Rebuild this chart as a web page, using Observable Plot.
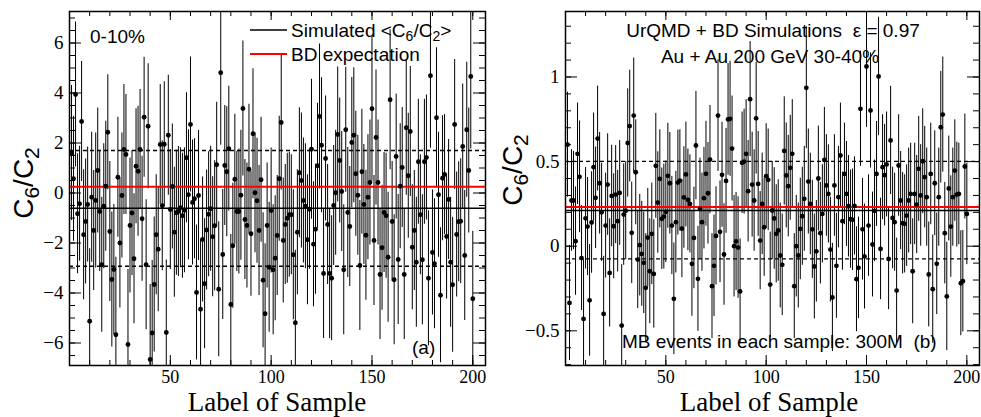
<!DOCTYPE html>
<html><head><meta charset="utf-8">
<script src="https://cdn.jsdelivr.net/npm/d3@7"></script>
<script src="https://cdn.jsdelivr.net/npm/@observablehq/plot@0.6"></script>
<style>
body{margin:0;background:#fff}
#wrap{display:flex;width:981px;height:417px;overflow:hidden}
</style>
</head><body><div id="wrap"></div>
<script>
// ---------- data ----------
const samples = d3.range(1, 201);

const valsA = [
1.6,0.57,3.94,-0.83,-0.43,2.86,-1.67,-1.14,-0.46,-5.13,-0.17,-1.5,-0.3,0.9,-0.74,-2.87,-0.53,0.27,2.43,-1.54,
-3.46,-3.06,-5.67,0.63,-2.0,-0.1,1.74,1.54,-6.06,-1.3,-0.8,-2.63,1.07,0.87,1.74,-1.03,3.03,-2.87,2.67,-6.66,
-5.6,-3.66,-1.67,-2.25,1.94,-0.51,1.95,-5.58,2.31,-0.66,0.26,-1.57,-0.79,-0.74,-0.59,-0.91,-0.69,1.41,-0.07,2.74,
-0.38,-0.23,-3.98,-0.1,-4.65,-1.86,-3.63,-1.48,-0.85,-0.63,-1.75,-1.31,1.13,-3.85,4.81,-2.46,1.1,0.85,1.77,-4.46,
-2.11,0.55,-0.74,-0.74,-0.09,3.38,-1.06,-1.3,0.95,-1.63,2.37,0.01,-0.31,-1.5,0.53,-3.49,-4.83,-1.3,-2.97,-0.7,
-3.07,-2.61,-1.7,0.57,2.82,-1.9,-1.26,-1.01,-0.87,-0.87,-2.47,-5.19,-1.57,0.81,0.5,-0.3,-0.53,-1.87,-0.65,1.75,
-2.05,-1.45,1.09,3.06,1.91,-3.22,1.38,-1.26,-3.22,-3.41,-0.5,0.01,2.34,1.3,0.06,-3.07,2.53,-0.78,-1.34,2.02,
2.31,0.77,-0.09,-2.9,0.85,-0.46,-1.69,-0.17,0.42,3.37,-1.9,2.22,0.42,-3.26,-2.19,-0.78,-0.91,-2.57,3.73,-1.14,
-3.47,1.46,-2.66,0.27,1.02,-3.26,2.61,0.69,2.46,-2.17,-1.5,-2.77,1.25,-0.87,-2.67,1.25,1.42,-3.41,4.69,-2.38,
-2.83,3.01,-0.07,-4.09,0.59,0.74,-1.74,-0.26,-2.77,-3.67,2.74,-1.66,-1.15,-1.13,1.86,-2.5,2.53,0.9,4.66,-4.23
];
const errsA = [
2.7,2.5,2.9,2.4,2.3,2.4,2.6,2.5,2.3,2.9,2.6,2.4,2.7,2.5,2.4,2.7,2.5,2.6,2.3,2.8,
2.7,2.6,3.1,2.4,2.6,2.5,2.6,2.4,3.0,2.7,2.5,2.6,2.3,2.6,2.4,2.5,2.4,2.6,2.5,3.0,
2.9,2.7,2.4,2.5,2.4,2.6,2.5,2.9,2.4,2.4,2.5,2.6,2.5,2.6,2.4,2.5,2.5,2.6,2.6,2.7,
2.5,2.4,2.7,2.6,2.8,2.5,2.6,2.4,2.5,2.5,2.4,2.6,2.5,2.7,2.9,2.6,2.4,2.6,2.5,2.8,
2.5,2.6,2.4,2.5,2.6,2.7,2.4,2.5,2.6,2.5,2.6,2.4,2.5,2.6,2.5,2.7,2.8,2.5,2.6,2.5,
2.6,2.5,2.4,2.5,2.7,2.5,2.4,2.6,2.5,2.4,2.6,2.9,2.5,2.6,2.7,2.5,2.5,2.6,2.4,2.8,
2.5,2.6,2.5,2.9,2.7,2.6,2.5,2.4,2.6,2.5,2.4,2.5,2.7,2.5,2.4,2.6,2.5,2.6,2.4,2.6,
2.7,2.5,2.4,2.6,2.5,2.4,2.6,2.5,2.5,2.9,2.6,2.7,2.5,2.6,2.5,2.4,2.5,2.6,2.8,2.4,
2.6,2.5,2.6,2.5,2.4,2.6,2.7,2.5,2.6,2.5,2.4,2.6,2.5,2.4,2.6,2.5,2.5,2.7,2.9,2.5,
2.6,2.8,2.5,2.7,2.5,2.4,2.5,2.4,2.6,2.7,2.6,2.5,2.4,2.5,2.5,2.6,2.7,2.5,2.9,2.7
];
const valsB = [
0.6,-0.335,0.27,0.27,0.03,0.546,0.41,-0.07,-0.43,0.165,0.116,-0.32,0.14,0.467,0.286,0.636,0.372,0.2,-0.4,0.122,
0.364,-0.158,0.297,0.118,0.305,0.148,0.315,-0.469,0.187,0.21,0.61,0.71,0.079,0.772,0.437,-0.079,0.006,-0.045,-0.098,-0.246,
0.051,-0.148,0.073,-0.164,0.475,0.258,0.398,0.162,0.175,0.203,0.416,0.372,0.122,-0.311,0.142,0.376,0.388,0.104,0.288,0.424,
0.274,0.25,-0.104,0.049,0.595,-0.193,0.221,0.142,0.284,0.428,0.313,0.512,-0.236,-0.116,0.061,0.772,0.085,0.422,-0.049,0.386,
0.749,0.753,0.577,0.0,0.028,-0.008,-0.267,0.493,0.5,0.546,0.325,0.869,0.364,0.27,0.756,0.368,0.033,0.25,0.112,0.414,
0.392,-0.227,0.211,0.164,0.073,0.093,-0.055,-0.11,0.563,0.418,0.355,0.463,0.546,-0.236,0.0,-0.055,0.102,0.177,0.28,0.936,
0.382,0.25,0.1,-0.12,-0.03,0.4,0.077,0.191,0.51,0.359,0.309,-0.02,-0.303,0.359,-0.116,0.29,0.536,0.148,0.427,0.309,
0.236,0.16,0.156,0.238,-0.195,-0.128,0.812,0.1,-0.061,1.062,0.122,0.802,0.01,0.209,0.427,1.003,-0.016,0.467,0.42,0.483,
-0.075,0.625,0.167,0.142,-0.262,0.477,0.27,0.136,0.132,0.181,0.27,0.309,-0.148,0.309,0.246,0.457,0.3,0.502,0.408,0.29,
-0.167,0.427,-0.254,0.372,-0.104,0.29,0.703,0.778,0.077,-0.297,0.341,0.116,0.29,0.447,0.305,0.309,-0.219,-0.207,0.471,0.191
];
const errsB = [
0.31,0.34,0.30,0.29,0.32,0.30,0.33,0.31,0.35,0.30,0.29,0.33,0.30,0.32,0.30,0.31,0.30,0.29,0.34,0.31,
0.30,0.32,0.30,0.31,0.29,0.30,0.31,0.36,0.30,0.29,0.32,0.33,0.30,0.34,0.31,0.29,0.30,0.31,0.30,0.32,
0.29,0.31,0.30,0.32,0.31,0.30,0.29,0.30,0.31,0.30,0.31,0.30,0.29,0.33,0.30,0.31,0.30,0.29,0.30,0.31,
0.30,0.29,0.31,0.30,0.32,0.31,0.30,0.29,0.30,0.31,0.30,0.32,0.31,0.30,0.29,0.33,0.30,0.31,0.30,0.31,
0.33,0.34,0.31,0.30,0.29,0.30,0.31,0.30,0.31,0.32,0.30,0.34,0.31,0.30,0.33,0.31,0.29,0.30,0.29,0.31,
0.30,0.31,0.29,0.30,0.29,0.30,0.31,0.30,0.32,0.31,0.30,0.31,0.32,0.31,0.30,0.31,0.30,0.29,0.31,0.36,
0.31,0.30,0.29,0.31,0.30,0.31,0.30,0.29,0.31,0.30,0.29,0.31,0.32,0.30,0.31,0.30,0.31,0.29,0.30,0.31,
0.30,0.29,0.30,0.29,0.31,0.30,0.34,0.30,0.31,0.36,0.30,0.34,0.31,0.30,0.31,0.35,0.30,0.31,0.30,0.31,
0.30,0.32,0.30,0.29,0.31,0.30,0.29,0.30,0.29,0.30,0.31,0.30,0.31,0.30,0.29,0.31,0.30,0.31,0.30,0.29,
0.31,0.30,0.32,0.31,0.30,0.29,0.33,0.34,0.30,0.32,0.31,0.30,0.29,0.30,0.31,0.30,0.31,0.30,0.31,0.30
];

// reference lines: simulated mean, mean ± spread, BD expectation
const linesA = {mean: -0.61, low: -2.93, high: 1.70, bd: 0.25};
const linesB = {mean: 0.211, low: -0.075, high: 0.501, bd: 0.231};

// axis ticks
const xMajor = [50, 100, 150, 200];
const xMinor = d3.range(10, 206, 10);
const yMajorA = [-6, -4, -2, 0, 2, 4, 6];
const yMinorA = d3.range(-6.5, 7.01, 0.5);
const yMajorB = [-0.5, 0, 0.5, 1];
const yMinorB = d3.range(-7, 14, 1).map(d => d / 10);

// ---------- drawing ----------
const H = 417, MT = 11, MB = 52;
const fmt = d => (d < 0 ? "\u2212" : "") + Math.abs(d);

function panel({width, ml, mr, yDomain, vals, errs, lines, yMajor, yMinor}) {
  const data = samples.map((s, k) => ({i: s, v: vals[k], e: errs[k]}));
  const iw = width - ml - mr, ih = H - MT - MB;
  return Plot.plot({
    width, height: H, marginLeft: ml, marginRight: mr, marginTop: MT, marginBottom: MB,
    x: {domain: [0, 206.3], axis: null},
    y: {domain: yDomain, axis: null},
    style: {fontFamily: "Liberation Serif", background: "white", overflow: "visible"},
    marks: [
      Plot.ruleX(data, {x: "i", y1: d => d.v - d.e, y2: d => d.v + d.e, stroke: "black", strokeWidth: 1, clip: true}),
      Plot.ruleY([lines.low, lines.high], {stroke: "black", strokeWidth: 1.3, strokeDasharray: "4,3"}),
      Plot.ruleY([lines.mean], {stroke: "black", strokeWidth: 1.5}),
      Plot.ruleY([lines.bd], {stroke: "#ff0000", strokeWidth: 2}),
      Plot.dot(data, {x: "i", y: "v", r: 2.4, fill: "black", stroke: "none", clip: true}),
      // inward ticks on all four sides
      Plot.ruleY(yMajor, {y: d => d, insetRight: iw - 12, stroke: "black"}),
      Plot.ruleY(yMinor, {y: d => d, insetRight: iw - 6, stroke: "black"}),
      Plot.ruleY(yMajor, {y: d => d, insetLeft: iw - 12, stroke: "black"}),
      Plot.ruleY(yMinor, {y: d => d, insetLeft: iw - 6, stroke: "black"}),
      Plot.ruleX(xMajor, {x: d => d, insetTop: ih - 10, stroke: "black"}),
      Plot.ruleX(xMinor, {x: d => d, insetTop: ih - 5, stroke: "black"}),
      Plot.ruleX(xMajor, {x: d => d, insetBottom: ih - 9, stroke: "black"}),
      Plot.ruleX(xMinor, {x: d => d, insetBottom: ih - 5, stroke: "black"}),
      Plot.text(yMajor, {y: d => d, text: fmt, frameAnchor: "left", textAnchor: "end", dx: -6, fontSize: 19, fill: "black"}),
      Plot.text(xMajor, {x: d => d, text: fmt, frameAnchor: "bottom", lineAnchor: "top", dy: 5, fontSize: 18, fill: "black"}),
      Plot.frame({stroke: "black", strokeWidth: 1.5})
    ]
  });
}

function addText(svg, x, y, str, opts = {}) {
  const t = svg.append("text").attr("x", x).attr("y", y)
    .attr("font-family", opts.family || "Liberation Sans")
    .attr("font-size", opts.size || 19)
    .attr("fill", "black")
    .attr("text-anchor", opts.anchor || "start");
  t.text(str);
  return t;
}

function addYTitle(svg, x, y) {
  const t = svg.append("text")
    .attr("transform", `translate(${x},${y}) rotate(-90)`)
    .attr("text-anchor", "middle")
    .attr("font-family", "Liberation Sans").attr("font-size", 28).attr("fill", "black");
  t.append("tspan").text("C");
  t.append("tspan").attr("font-size", 21).attr("dy", 6).text("6");
  t.append("tspan").attr("dy", -6).text("/C");
  t.append("tspan").attr("font-size", 21).attr("dy", 6).text("2");
}

const wrap = document.getElementById("wrap");

// panel (a)
const pa = panel({width: 490, ml: 69, mr: 5, yDomain: [-6.9, 7.26],
  vals: valsA, errs: errsA, lines: linesA, yMajor: yMajorA, yMinor: yMinorA});
wrap.appendChild(pa);
{
  const s = d3.select(pa);
  addText(s, 277, 411, "Label of Sample", {family: "Liberation Serif", size: 27, anchor: "middle"});
  addYTitle(s, 33, 183);
  addText(s, 90, 43, "0-10%");
  addText(s, 412, 354, "(a)");
  s.append("line").attr("x1", 250).attr("x2", 287).attr("y1", 30).attr("y2", 30).attr("stroke", "black").attr("stroke-width", 1.5);
  s.append("line").attr("x1", 250).attr("x2", 287).attr("y1", 54).attr("y2", 54).attr("stroke", "#ff0000").attr("stroke-width", 2);
  const l1 = addText(s, 291, 37, "");
  l1.append("tspan").text("Simulated <C");
  l1.append("tspan").attr("font-size", 14).attr("dy", 4).text("6");
  l1.append("tspan").attr("dy", -4).text("/C");
  l1.append("tspan").attr("font-size", 14).attr("dy", 4).text("2");
  l1.append("tspan").attr("dy", -4).text(">");
  addText(s, 291, 61, "BD expectation");
}

// panel (b)
const pb = panel({width: 491, ml: 75, mr: 2, yDomain: [-0.705, 1.387],
  vals: valsB, errs: errsB, lines: linesB, yMajor: yMajorB, yMinor: yMinorB});
wrap.appendChild(pb);
{
  const s = d3.select(pb);
  addText(s, 279, 411, "Label of Sample", {family: "Liberation Serif", size: 27, anchor: "middle"});
  addYTitle(s, 32, 170);
  addText(s, 283, 37, "UrQMD + BD Simulations  \u03b5 = 0.97", {anchor: "middle"});
  addText(s, 280, 63, "Au + Au 200 GeV 30-40%", {anchor: "middle"});
  addText(s, 132, 348, "MB events in each sample: 300M  (b)");
}
</script></body></html>
